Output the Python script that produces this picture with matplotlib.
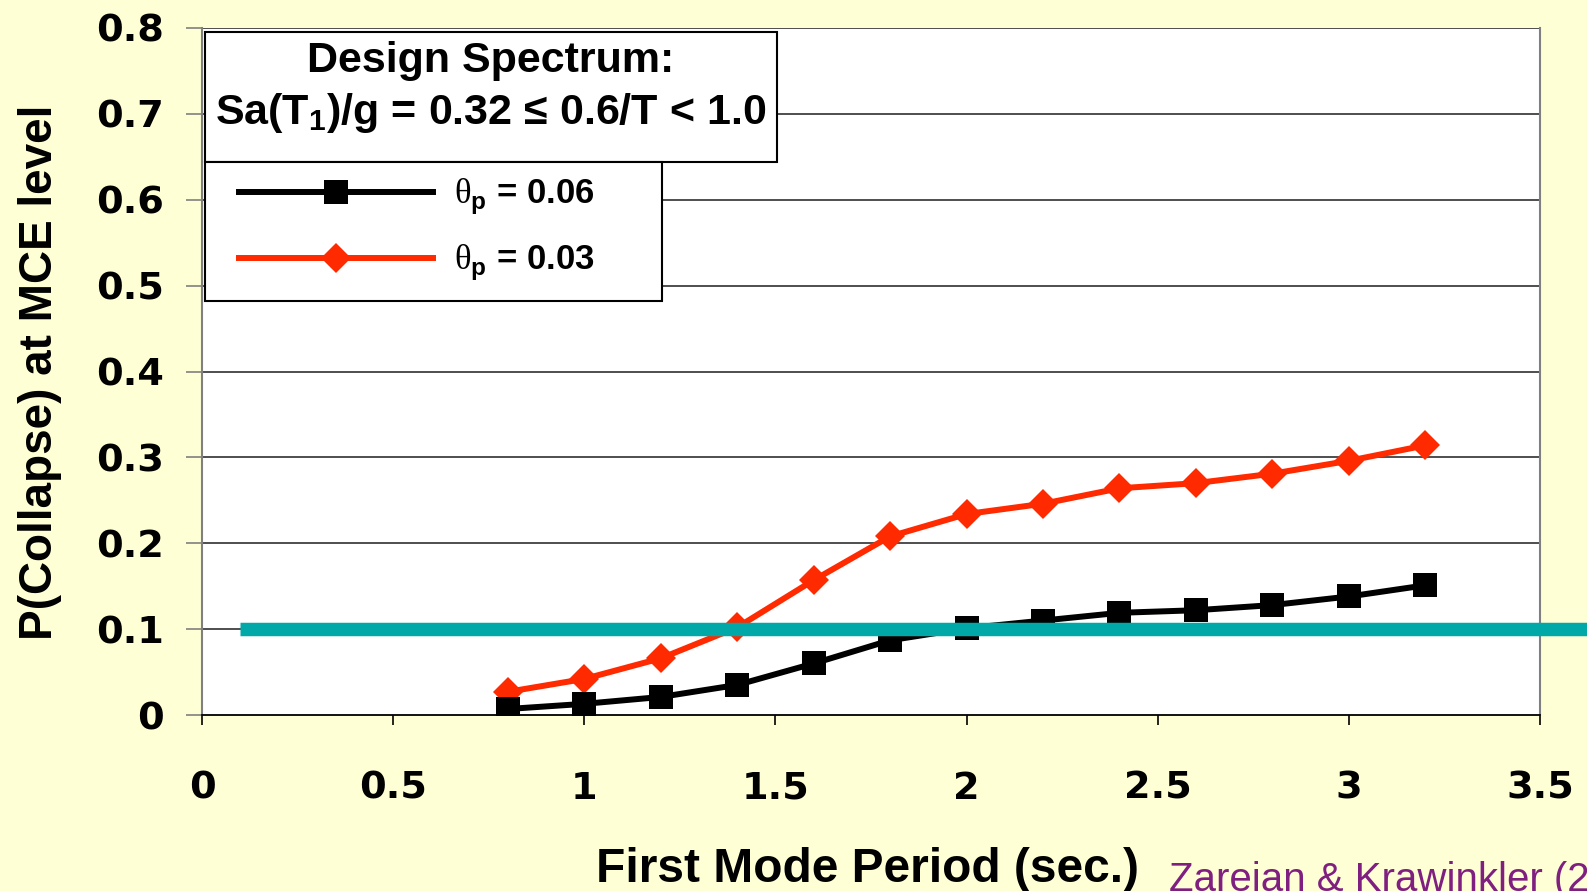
import matplotlib
matplotlib.use('Agg')
import matplotlib.pyplot as plt
from matplotlib.lines import Line2D
from matplotlib.patches import Rectangle

# First-mode periods (sec.) and collapse probabilities at the MCE level
periods = [0.8, 1.0, 1.2, 1.4, 1.6, 1.8, 2.0, 2.2, 2.4, 2.6, 2.8, 3.0, 3.2]
p_collapse_006 = [0.007, 0.013, 0.021, 0.035, 0.060, 0.087, 0.101,
                  0.110, 0.119, 0.122, 0.128, 0.138, 0.151]
p_collapse_003 = [0.027, 0.042, 0.066, 0.102, 0.157, 0.208, 0.234,
                  0.246, 0.264, 0.270, 0.281, 0.296, 0.314]

# 10% acceptance limit
limit_x = [0.1, 3.7]
limit_y = [0.1, 0.1]

x_ticks = [0, 0.5, 1, 1.5, 2, 2.5, 3, 3.5]
x_tick_labels = ['0', '0.5', '1', '1.5', '2', '2.5', '3', '3.5']
y_ticks = [0, 0.1, 0.2, 0.3, 0.4, 0.5, 0.6, 0.7, 0.8]
y_tick_labels = ['0', '0.1', '0.2', '0.3', '0.4', '0.5', '0.6', '0.7', '0.8']

series_labels = [r'$\mathrm{\theta}_{\mathbf{p}}$ = 0.06',
                 r'$\mathrm{\theta}_{\mathbf{p}}$ = 0.03']

BG = '#FFFFD5'
RED = '#FF2A00'
TEAL = '#00A8A8'
GRID = '#404040'
LW = 4.3
SQ_SIZE = 17
DIA_SIZE = 15.5

plt.rcParams['font.family'] = ['Liberation Sans', 'DejaVu Sans']
plt.rcParams['mathtext.fontset'] = 'custom'
plt.rcParams['mathtext.rm'] = 'Liberation Serif'
plt.rcParams['mathtext.bf'] = 'Liberation Sans:bold'

fig = plt.figure(figsize=(15.87, 8.91), dpi=100, facecolor=BG)
W, H = 1587.0, 891.0
ax = fig.add_axes([202 / W, 1 - 715 / H, (1540 - 202) / W, (715 - 28) / H])
ax.set_facecolor('white')

ax.set_xlim(0, 3.5)
ax.set_ylim(0, 0.8)

# horizontal grid
for yv in y_ticks[1:]:
    ax.axhline(yv, color=GRID, lw=1.3, zorder=1)

ax.plot(limit_x, limit_y, color=TEAL, lw=9.7, solid_capstyle='butt',
        clip_on=False, zorder=4)
ax.plot(periods, p_collapse_003, color=RED, lw=LW, marker='D',
        markersize=DIA_SIZE, markeredgewidth=0, zorder=3)
ax.plot(periods, p_collapse_006, color='black', lw=LW, marker='s',
        markersize=SQ_SIZE, markeredgewidth=0, zorder=3)

for side in ['left', 'right']:
    ax.spines[side].set_color('#808080')
    ax.spines[side].set_linewidth(1.5)
ax.spines['top'].set_visible(False)
ax.spines['bottom'].set_color('black')
ax.spines['bottom'].set_linewidth(1.3)

ax.set_xticks(x_ticks)
ax.set_xticklabels(x_tick_labels, family='DejaVu Sans', fontweight='bold',
                   fontsize=27.5)
ax.set_yticks(y_ticks)
ax.set_yticklabels(y_tick_labels, family='DejaVu Sans', fontweight='bold',
                   fontsize=27.5)
ax.tick_params(axis='x', direction='out', length=7, width=1.2,
               color='black', pad=33)
ax.tick_params(axis='y', direction='out', length=11.5, width=1.2,
               color='#808080', pad=16)

ax.set_xlabel('First Mode Period (sec.)', fontsize=34.5, fontweight='bold')
ax.xaxis.set_label_coords(867 / W, 1 - 847 / H, transform=fig.transFigure)
ax.set_ylabel('P(Collapse) at MCE level', fontsize=33, fontweight='bold')
ax.yaxis.set_label_coords(62 / W, 1 - 372 / H, transform=fig.transFigure)

# title box with the design spectrum
fig.patches.append(Rectangle((205 / W, 1 - 162 / H), (777 - 205) / W,
                             (162 - 32) / H, transform=fig.transFigure,
                             facecolor='white', edgecolor='black', lw=1.5,
                             zorder=5))
fig.text(491 / W, 1 - 61 / H, 'Design Spectrum:', ha='center', va='center',
         fontsize=31, fontweight='bold', zorder=6)
fig.text(491 / W, 1 - 113 / H,
         r'Sa(T$_{\mathbf{1}}$)/g = 0.32 ≤ 0.6/T < 1.0', ha='center',
         va='center', fontsize=31, fontweight='bold', zorder=6)

# series legend box
fig.patches.append(Rectangle((205 / W, 1 - 301 / H), (662 - 205) / W,
                             (301 - 162) / H, transform=fig.transFigure,
                             facecolor='white', edgecolor='black', lw=1.5,
                             zorder=5))
handles = [Line2D([], [], color='black', lw=LW, marker='s',
                  markersize=SQ_SIZE, markeredgewidth=0),
           Line2D([], [], color=RED, lw=LW, marker='D',
                  markersize=DIA_SIZE, markeredgewidth=0)]
leg = fig.legend(handles, series_labels, loc='upper left',
                 bbox_to_anchor=(239 / W, 1 - 177 / H), frameon=False,
                 fontsize=25, handlelength=5.6, handletextpad=0.6,
                 borderpad=0, labelspacing=0.75, borderaxespad=0)
for t in leg.get_texts():
    t.set_fontweight('bold')
leg.set_zorder(7)

fig.text(1169 / W, 1 - 861 / H, 'Zareian & Krawinkler (2007)', ha='left',
         va='top', fontsize=29, color='#7F1F80')

fig.savefig('out.png', dpi=100, facecolor=BG)
